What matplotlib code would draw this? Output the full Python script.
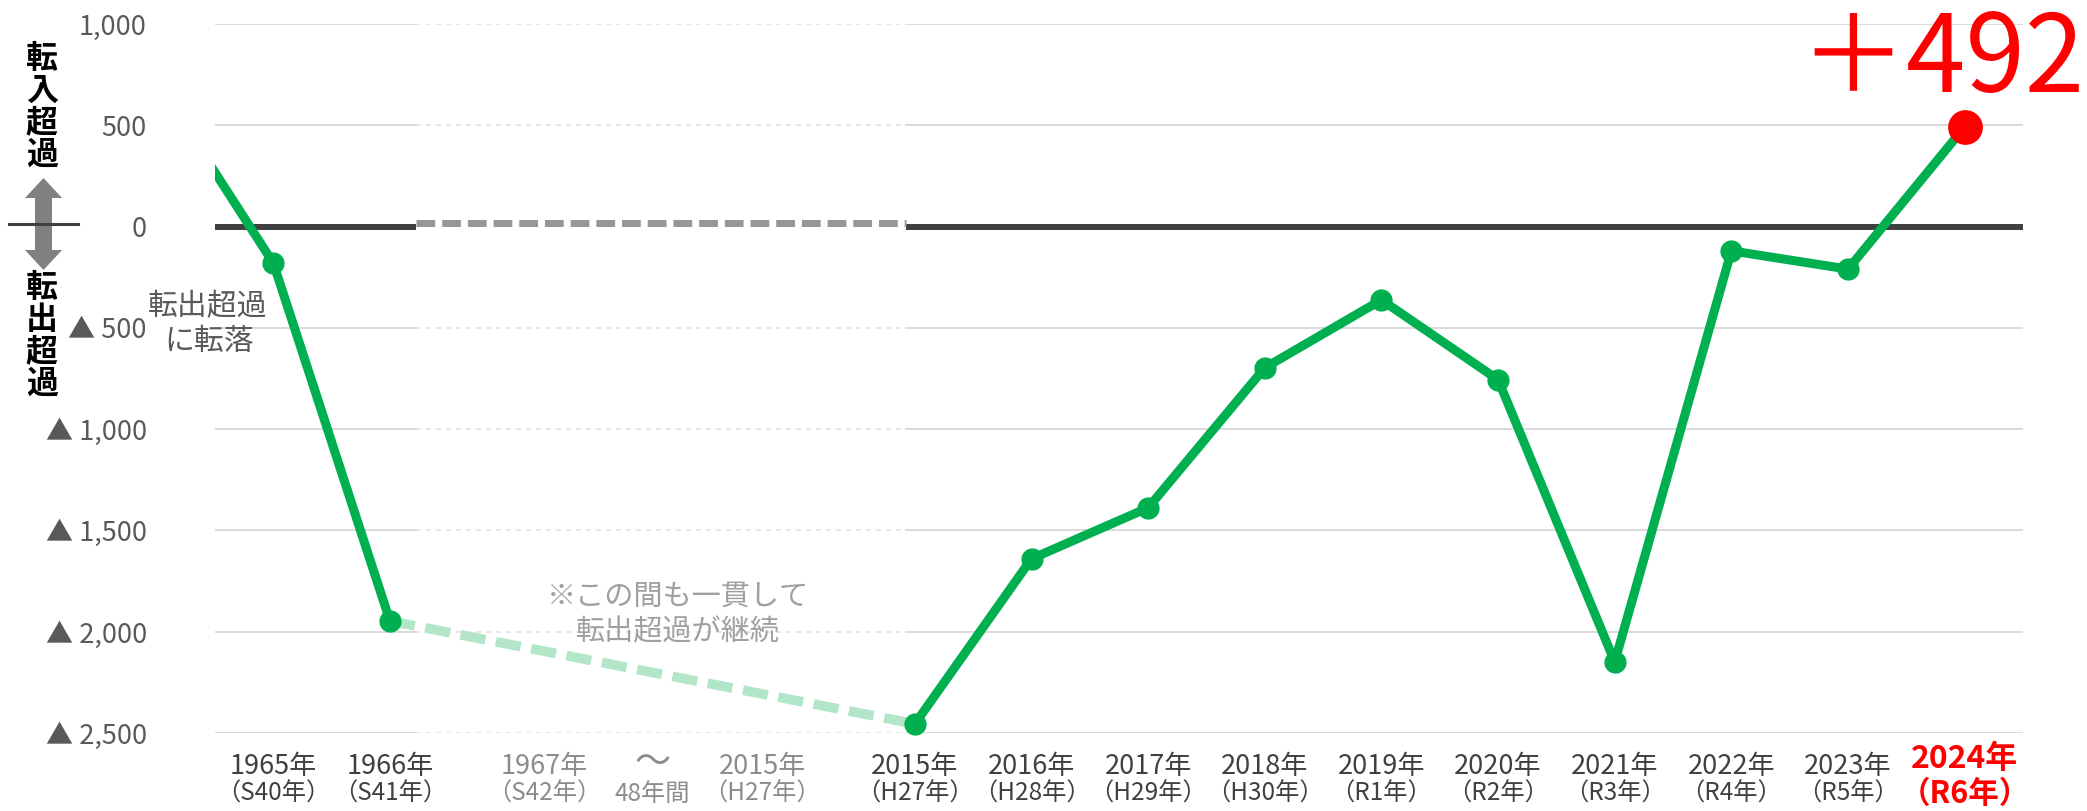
import numpy as np
import matplotlib.pyplot as plt
from matplotlib.patches import Polygon
from matplotlib.transforms import blended_transform_factory

plt.rcParams['font.family'] = ['Noto Sans CJK JP', 'DejaVu Sans']

W, H = 2087, 811

# データ（転入超過数、人）
pre_value = 715  # 1964年（グラフ外）
left_years = ["1965年", "1966年"]
left_eras = ["（S40年）", "（S41年）"]
left_values = [-180, -1947]

gap_years = ["1967年", "〜", "2015年"]
gap_eras = ["（S42年）", "48年間", "（H27年）"]

right_years = ["2015年", "2016年", "2017年", "2018年", "2019年",
               "2020年", "2021年", "2022年", "2023年", "2024年"]
right_eras = ["（H27年）", "（H28年）", "（H29年）", "（H30年）", "（R1年）",
              "（R2年）", "（R3年）", "（R4年）", "（R5年）", "（R6年）"]
right_values = [-2455, -1640, -1388, -697, -362, -756, -2149, -120, -210, 492]

yticks = [1000, 500, 0, -500, -1000, -1500, -2000, -2500]

GREEN = '#00b050'
RED = '#ff0000'


def fy(py):
    return 1 - py / H


def fx(px):
    return px / W


fig = plt.figure(figsize=(W / 100, H / 100), dpi=100)
ax = fig.add_axes([fx(215), fy(733), (2023 - 215) / W, (733 - 24) / H])
ax.set_xlim(0, 15.5)
ax.set_ylim(-2500, 1000)
for s in ax.spines.values():
    s.set_visible(False)
ax.set_xticks([])
ax.set_yticks(yticks)
ax.set_yticklabels([f"▲ {abs(v):,}" if v < 0 else f"{v:,}" for v in yticks],
                   fontsize=19.5, color='#595959')
ax.tick_params(axis='y', length=0, pad=49)

gap_lo, gap_hi = 1.72, 5.92

# 目盛線
for v in yticks:
    if v == 0:
        continue
    ax.plot([0, gap_lo], [v, v], color='#d9d9d9', lw=1.4, zorder=1)
    ax.plot([gap_hi, 15.5], [v, v], color='#d9d9d9', lw=1.4, zorder=1)
    ax.plot([gap_lo, gap_hi], [v, v], color='#e3e3e3', lw=1.2,
            dashes=(3, 3), zorder=1)

# ゼロ線
ax.plot([0, gap_lo], [0, 0], color='#404040', lw=4.3, solid_capstyle='butt', zorder=2)
ax.plot([gap_hi, 15.5], [0, 0], color='#404040', lw=4.3, solid_capstyle='butt', zorder=2)
ax.plot([gap_lo, gap_hi], [20, 20], color='#969696', lw=5, dashes=(2.7, 1),
        dash_capstyle='butt', zorder=2)

x_left = np.arange(len(left_values)) + 0.5
x_right = np.arange(len(right_values)) + 6.0

# 折れ線
ax.plot(np.r_[x_left[0] - 1, x_left], np.r_[pre_value, left_values],
        color=GREEN, lw=6.5, zorder=4, solid_capstyle='butt')
ax.plot(x_left, left_values, 'o', color=GREEN, ms=15, zorder=5)
ax.plot([x_left[-1], x_right[0]], [left_values[-1], right_values[0]],
        color='#b3e6c8', lw=7, dashes=(2.6, 1.1), zorder=3)
ax.plot(x_right, right_values, color=GREEN, lw=6.5, zorder=4, clip_on=False)
ax.plot(x_right[:-1], right_values[:-1], 'o', color=GREEN, ms=15, zorder=5,
        clip_on=False)
ax.plot(x_right[-1:], right_values[-1:], 'o', color=RED, ms=24, zorder=6,
        clip_on=False)

# 横軸ラベル
trans = blended_transform_factory(ax.transData, fig.transFigure)
for x, yr, era in zip(x_left, left_years, left_eras):
    ax.text(x, fy(766), yr, transform=trans, ha='center', va='center',
            fontsize=19.5, color='#404040')
    ax.text(x, fy(794), era, transform=trans, ha='center', va='center',
            fontsize=17.5, color='#404040')
for x, yr, era in zip(x_right[:-1], right_years[:-1], right_eras[:-1]):
    ax.text(x, fy(766), yr, transform=trans, ha='center', va='center',
            fontsize=19.5, color='#404040')
    ax.text(x, fy(794), era, transform=trans, ha='center', va='center',
            fontsize=17.5, color='#404040')
ax.text(x_right[-1], fy(759), right_years[-1], transform=trans, ha='center',
        va='center', fontsize=23, fontweight='bold', color=RED)
ax.text(x_right[-1], fy(794), right_eras[-1], transform=trans, ha='center',
        va='center', fontsize=22, fontweight='bold', color=RED)

gap_x = [2.82, 3.75, 4.69]
for x, yr, era in zip(gap_x, gap_years, gap_eras):
    big = yr == "〜"
    ax.text(x, fy(763 if big else 766), yr, transform=trans, ha='center',
            va='center', fontsize=26 if big else 19.5, color='#8c8c8c')
    ax.text(x, fy(794), era, transform=trans, ha='center', va='center',
            fontsize=17.5, color='#8c8c8c')

# 注記
fig.text(fx(678), fy(597), "※この間も一貫して", ha='center', va='center',
         fontsize=21, color='#a0a0a0')
fig.text(fx(678), fy(632), "転出超過が継続", ha='center', va='center',
         fontsize=21, color='#a0a0a0')
fig.text(fx(208), fy(307), "転出超過", ha='center', va='center',
         fontsize=21.5, color='#595959')
fig.text(fx(209), fy(342), "に転落", ha='center', va='center',
         fontsize=21.5, color='#595959')

fig.text(fx(1942), fy(92), f"＋{right_values[-1]}", ha='center', va='baseline',
         fontsize=77, color=RED)

# 左側の縦書きラベルと矢印
for i, ch in enumerate("転入超過"):
    fig.text(fx(42), fy(59 + 32 * i), ch, ha='center', va='center',
             fontsize=23, fontweight='bold', color='black')
for i, ch in enumerate("転出超過"):
    fig.text(fx(42), fy(288 + 32 * i), ch, ha='center', va='center',
             fontsize=23, fontweight='bold', color='black')

cx, top, bot = 43.5, 178, 270
hw, sw, hl = 18.5, 8.5, 20
pts = [(cx, top), (cx + hw, top + hl), (cx + sw, top + hl), (cx + sw, bot - hl),
       (cx + hw, bot - hl), (cx, bot), (cx - hw, bot - hl), (cx - sw, bot - hl),
       (cx - sw, top + hl), (cx - hw, top + hl)]
fig.patches.append(Polygon([(fx(a), fy(b)) for a, b in pts], closed=True,
                           transform=fig.transFigure, facecolor='#808080',
                           edgecolor='none'))
fig.lines.append(plt.Line2D([fx(9), fx(78)], [fy(224), fy(224)],
                            transform=fig.transFigure, color='#404040', lw=2.2))

fig.savefig('out.png', dpi=100)
